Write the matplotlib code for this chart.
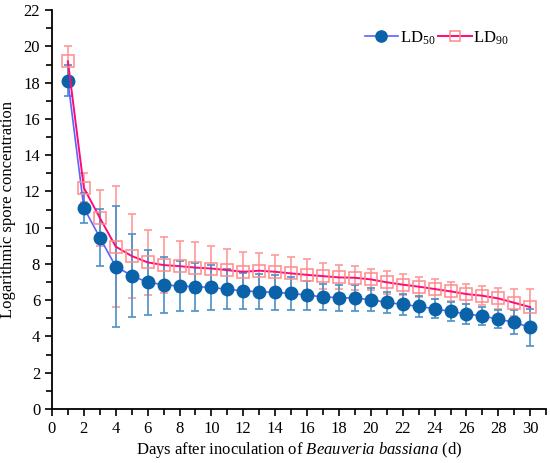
import matplotlib
matplotlib.use('Agg')
from matplotlib import pyplot as plt
from matplotlib.ticker import MultipleLocator

plt.rcParams['font.family'] = ['Liberation Serif', 'DejaVu Serif']
plt.rcParams['mathtext.fontset'] = 'custom'
plt.rcParams['mathtext.rm'] = 'Liberation Serif'
plt.rcParams['mathtext.it'] = 'Liberation Serif:italic'

days = list(range(1, 31))
ld50 = [18.1, 11.1, 9.46, 7.86, 7.36, 6.99, 6.86, 6.78, 6.75, 6.71,
        6.60, 6.52, 6.47, 6.43, 6.38, 6.28, 6.19, 6.14, 6.12, 6.03,
        5.88, 5.77, 5.66, 5.53, 5.38, 5.24, 5.13, 4.96, 4.78, 4.50]
ld50_err = [0.85, 0.83, 1.55, 3.35, 2.3, 1.8, 1.55, 1.4, 1.33, 1.25,
            1.1, 1.0, 0.97, 0.95, 0.9, 0.8, 0.73, 0.72, 0.7, 0.65,
            0.6, 0.57, 0.57, 0.53, 0.55, 0.57, 0.5, 0.51, 0.66, 1.03]
ld90 = [19.18, 12.2, 10.55, 8.96, 8.44, 8.09, 7.94, 7.88, 7.80, 7.75,
        7.66, 7.57, 7.63, 7.57, 7.48, 7.40, 7.33, 7.26, 7.24, 7.15,
        6.99, 6.86, 6.75, 6.62, 6.49, 6.34, 6.25, 6.10, 5.86, 5.62]
ld90_err = [0.87, 0.8, 1.55, 3.35, 2.3, 1.8, 1.55, 1.4, 1.4, 1.25,
            1.16, 1.08, 0.95, 0.93, 0.9, 0.85, 0.73, 0.66, 0.65, 0.6,
            0.62, 0.58, 0.55, 0.53, 0.51, 0.53, 0.53, 0.56, 0.74, 0.98]

fig = plt.figure(figsize=(5.5, 4.63), dpi=100)
ax = fig.add_axes([0.0945, 0.1166, 0.8985, 0.8614])

ax.errorbar(days, ld90, yerr=ld90_err, fmt='none', ecolor='#ff9a9a',
            elinewidth=1.2, capsize=3, capthick=1.2, zorder=1)
ax.errorbar(days, ld50, yerr=ld50_err, fmt='none', ecolor='#4a90c8',
            elinewidth=1.2, capsize=3, capthick=1.2, zorder=2)
ax.plot(days, ld50, '-', color='#5a64ff', lw=1.2, marker='o', ms=9,
        mfc='#0a63a8', mec='#0a63a8', label='LD$_{50}$', zorder=3)
ax.plot(days, ld90, '-', color='#ff0a78', lw=1.4, marker='s', ms=8,
        mfc='none', mec='#ff8a8a', mew=1.1, label='LD$_{90}$', zorder=4)

ax.set_xlim(0, 31)
ax.set_ylim(0, 22)
ax.xaxis.set_major_locator(MultipleLocator(2))
ax.xaxis.set_minor_locator(MultipleLocator(1))
ax.yaxis.set_major_locator(MultipleLocator(2))
ax.yaxis.set_minor_locator(MultipleLocator(1))
ax.tick_params(which='both', direction='out', width=1.2, labelsize=12)
ax.tick_params(which='major', length=5)
ax.tick_params(which='minor', length=4)
for s in ['left', 'bottom']:
    ax.spines[s].set_linewidth(1.3)
ax.spines['right'].set_visible(False)
ax.spines['top'].set_visible(False)

ax.set_xlabel('Days after inoculation of $\\mathit{Beauveria\\ bassiana}$ (d)',
              fontsize=12, labelpad=2)
ax.set_ylabel('Logarithmic spore concentration', fontsize=12, labelpad=5)

ax.legend(loc='upper right', bbox_to_anchor=(0.955, 0.99), ncol=2, frameon=False,
          fontsize=12, handlelength=2.0, handletextpad=0.1, columnspacing=0.2,
          markerscale=0.9)

plt.savefig('out.png', dpi=100)
